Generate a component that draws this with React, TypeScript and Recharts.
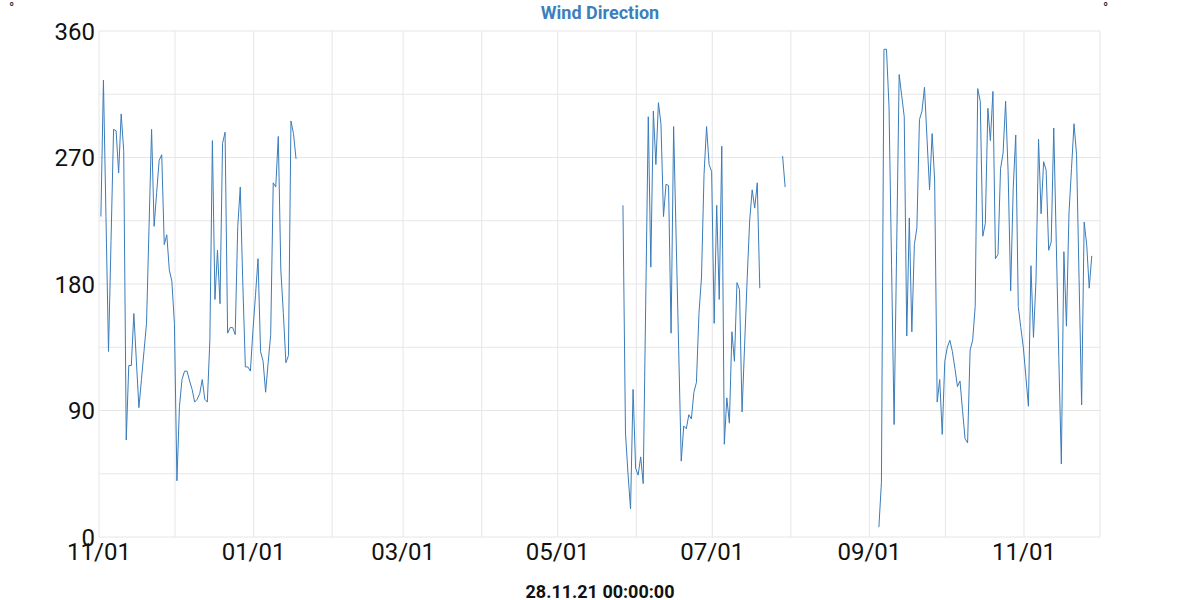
import React from 'react';
import { LineChart, Line, XAxis, YAxis, CartesianGrid } from 'recharts';

// daily wind direction readings (degrees), one array per unbroken stretch
const SEG1_START = '2020-11-01';
const SEG1 = [228, 325, 228, 132, 211, 290, 289, 259, 301, 275, 69, 122, 122, 159, 125, 92, 112, 132, 152, 221,
  290, 221, 245, 268, 272, 208, 215, 190, 182, 152, 40, 93, 112, 118, 118, 111, 105, 96, 98, 102,
  112, 98, 96, 140, 282, 169, 204, 166, 280, 288, 145, 149, 149, 144, 221, 249, 180, 121, 121, 118,
  147, 172, 198, 132, 125, 103, 124, 144, 252, 249, 285, 190, 159, 124, 129, 296, 287, 269];

const SEG2_START = '2021-05-26';
const SEG2 = [236, 74, 45, 20, 105, 49, 44, 57, 38, 168, 299, 192, 303, 265, 309, 294, 228, 251, 250, 145,
  292, 212, 133, 54, 79, 77, 87, 84, 103, 110, 159, 185, 258, 292, 265, 260, 152, 236, 169, 278,
  66, 99, 81, 146, 125, 181, 176, 89, 136, 183, 225, 247, 234, 252, 177];

const SEG3_START = '2021-07-28';
const SEG3 = [271, 249];

const SEG4_START = '2021-09-04';
const SEG4 = [7, 39, 347, 347, 306, 193, 80, 204, 329, 314, 299, 143, 227, 146, 208, 220, 297, 303, 320, 283,
  247, 287, 254, 96, 112, 73, 125, 135, 140, 132, 120, 107, 111, 90, 70, 67, 133, 140, 164, 319,
  310, 214, 223, 305, 282, 317, 198, 201, 262, 273, 310, 259, 175, 248, 286, 164, 149, 135, 114, 93,
  193, 142, 183, 283, 230, 267, 261, 204, 210, 291, 209, 127, 52, 203, 150, 230, 262, 294, 272, 183,
  94, 224, 208, 177, 200];

const MONTH_TICKS = ['2020-11-01', '2020-12-01', '2021-01-01', '2021-02-01', '2021-03-01', '2021-04-01',
  '2021-05-01', '2021-06-01', '2021-07-01', '2021-08-01', '2021-09-01', '2021-10-01', '2021-11-01', '2021-12-01'];
const DEG_TICKS = [0, 45, 90, 135, 180, 225, 270, 315, 360];

const DAY = 86400000;
const OFFSET = 0.75 * DAY; // readings land late in the day

const toTime = (s: string) => Date.parse(s + 'T00:00:00Z');

const segments = [
  [SEG1_START, SEG1],
  [SEG2_START, SEG2],
  [SEG3_START, SEG3],
  [SEG4_START, SEG4],
] as [string, number[]][];

const data: { t: number; v: number | null }[] = [];
segments.forEach(([start, vals], si) => {
  const t0 = toTime(start) + OFFSET;
  vals.forEach((v, i) => data.push({ t: t0 + i * DAY, v }));
  if (si < segments.length - 1) data.push({ t: t0 + vals.length * DAY, v: null }); // break the line
});

const ticks = MONTH_TICKS.map(toTime);
const fmtDate = (t: number) => {
  const d = new Date(t);
  const m = d.getUTCMonth() + 1;
  if (m % 2 === 0) return '';
  return String(m).padStart(2, '0') + '/' + String(d.getUTCDate()).padStart(2, '0');
};
const fmtDeg = (v: number) => (v % 90 === 0 ? String(v) : '');

const tickStyle = { fontFamily: 'Roboto', fontSize: 24, fill: '#111' };

export default function App() {
  return (
    <div style={{ position: 'absolute', left: 0, top: 0, width: 1200, height: 600, background: '#fff', fontFamily: 'Roboto' }}>
      <div style={{ position: 'absolute', top: 2, width: 1200, textAlign: 'center', fontSize: 18, fontWeight: 'bold', color: '#3c7fbe' }}>
        Wind Direction
      </div>
      <div style={{ position: 'absolute', left: 9, top: 1, fontSize: 14, lineHeight: '14px', color: '#222' }}>°</div>
      <div style={{ position: 'absolute', left: 1103, top: 1, fontSize: 14, lineHeight: '14px', color: '#222' }}>°</div>
      <LineChart width={1200} height={600} data={data} margin={{ top: 31, right: 0, bottom: 33, left: 0 }}>
        <CartesianGrid yAxisId="left" stroke="#e6e6e6" strokeWidth={1} />
        <XAxis
          dataKey="t"
          type="number"
          scale="time"
          height={30}
          domain={[ticks[0], ticks[ticks.length - 1]]}
          ticks={ticks}
          interval={0}
          tickFormatter={fmtDate}
          axisLine={false}
          tickLine={false}
          tickSize={0}
          tickMargin={6}
          tick={tickStyle}
        />
        <YAxis
          yAxisId="left"
          orientation="left"
          width={99}
          domain={[0, 360]}
          ticks={DEG_TICKS}
          interval={0}
          tickFormatter={fmtDeg}
          axisLine={false}
          tickLine={false}
          tickSize={0}
          tickMargin={4}
          tick={tickStyle}
        />
        <YAxis
          yAxisId="right"
          orientation="right"
          width={100}
          domain={[0, 360]}
          ticks={DEG_TICKS}
          interval={0}
          tickFormatter={fmtDeg}
          axisLine={false}
          tickLine={false}
          tickSize={0}
          tickMargin={7}
          tick={tickStyle}
        />
        <Line
          yAxisId="left"
          dataKey="v"
          stroke="#3a7cbb"
          strokeWidth={1}
          dot={false}
          activeDot={false}
          isAnimationActive={false}
        />
      </LineChart>
      <div style={{ position: 'absolute', top: 581, width: 1200, textAlign: 'center', fontSize: 18, fontWeight: 'bold', color: '#111' }}>
        28.11.21 00:00:00
      </div>
    </div>
  );
}
